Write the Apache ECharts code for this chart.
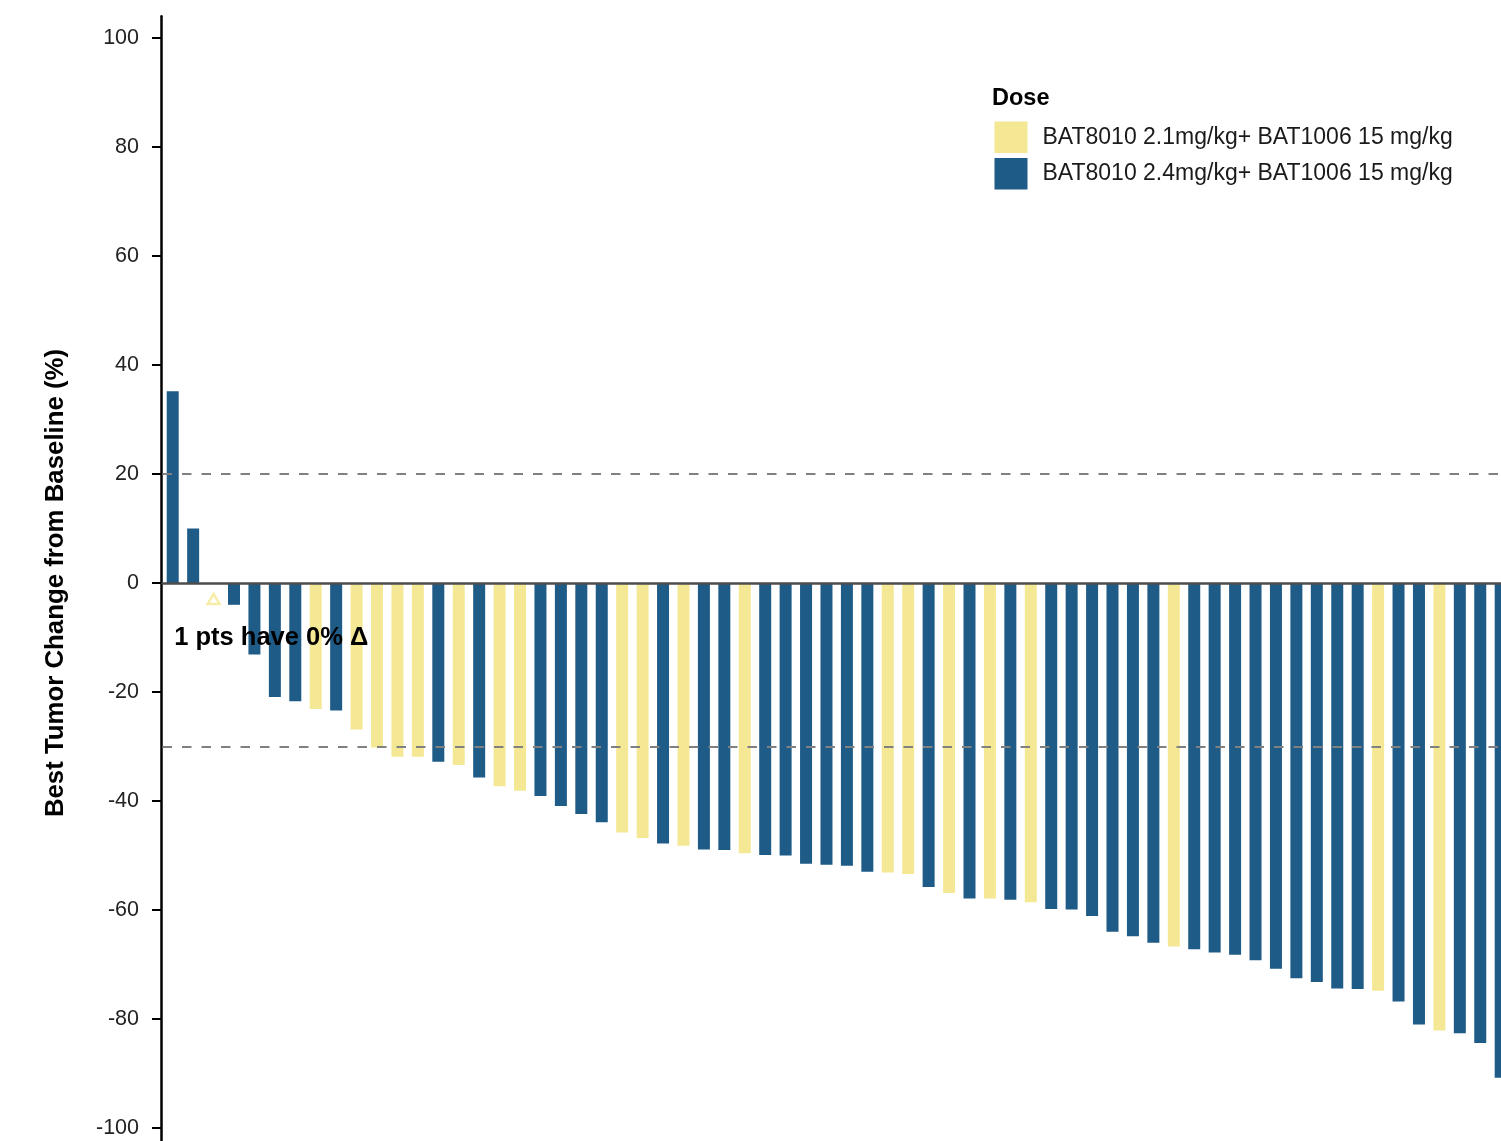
<!DOCTYPE html>
<html>
<head>
<meta charset="utf-8">
<script src="https://cdn.jsdelivr.net/npm/echarts@6/dist/echarts.min.js"></script>
<style>
html,body{margin:0;padding:0;background:#ffffff;}
#chart{width:1501px;height:1141px;}
</style>
</head>
<body>
<div id="chart"></div>
<script>
// ---- data ----
const patients = ['P01','P02','P03','P04','P05','P06','P07','P08','P09','P10',
  'P11','P12','P13','P14','P15','P16','P17','P18','P19','P20',
  'P21','P22','P23','P24','P25','P26','P27','P28','P29','P30',
  'P31','P32','P33','P34','P35','P36','P37','P38','P39','P40',
  'P41','P42','P43','P44','P45','P46','P47','P48','P49','P50',
  'P51','P52','P53','P54','P55','P56','P57','P58','P59','P60',
  'P61','P62','P63','P64','P65','P66'];

const bestChange = [35.2, 10.0, 0, -4.0, -13.1, -20.9, -21.7, -23.1, -23.4, -26.9,
  -30.2, -31.9, -31.9, -32.8, -33.4, -35.7, -37.3, -38.1, -39.1, -40.9,
  -42.4, -43.9, -45.8, -46.8, -47.8, -48.2, -48.9, -49.0, -49.6, -49.9,
  -50.0, -51.5, -51.7, -51.9, -53.0, -53.1, -53.4, -55.8, -56.9, -57.9,
  -57.9, -58.1, -58.6, -59.8, -59.9, -61.1, -64.0, -64.8, -66.0, -66.7,
  -67.2, -67.8, -68.2, -69.2, -70.8, -72.5, -73.2, -74.4, -74.5, -74.8,
  -76.8, -81.0, -82.1, -82.6, -84.4, -90.8];

const doseGroup = ['2.4','2.4','2.1','2.4','2.4','2.4','2.4','2.1','2.4','2.1',
  '2.1','2.1','2.1','2.4','2.1','2.4','2.1','2.1','2.4','2.4',
  '2.4','2.4','2.1','2.1','2.4','2.1','2.4','2.4','2.1','2.4',
  '2.4','2.4','2.4','2.4','2.4','2.1','2.1','2.4','2.1','2.4',
  '2.1','2.4','2.1','2.4','2.4','2.4','2.4','2.4','2.4','2.1',
  '2.4','2.4','2.4','2.4','2.4','2.4','2.4','2.4','2.4','2.1',
  '2.4','2.4','2.1','2.4','2.4','2.4'];

const doseKeys = ['2.1', '2.4'];
const doseLabels = ['BAT8010 2.1mg/kg+ BAT1006 15 mg/kg', 'BAT8010 2.4mg/kg+ BAT1006 15 mg/kg'];
const yTickValues = [-100, -80, -60, -40, -20, 0, 20, 40, 60, 80, 100];
const thresholdLines = [20, -30];

// ---- styles ----
const doseColors = ['#f5e895', '#1f5b87'];
const FONT = '"Liberation Sans", Arial, Helvetica, sans-serif';

const zeroIdx = bestChange.map((v, i) => v === 0 ? i : -1).filter(i => i >= 0);
const zeroCount = zeroIdx.length;

const barSeries = doseKeys.map((k, di) => ({
  name: doseLabels[di],
  type: 'bar',
  barWidth: 12,
  barGap: '-100%',
  itemStyle: { color: doseColors[di] },
  data: bestChange.map((v, i) => doseGroup[i] === k ? v : '-'),
  markLine: di === 0 ? {
    silent: true,
    symbol: ['none', 'none'],
    label: { show: false },
    lineStyle: { color: '#808080', width: 2, type: [9.5, 10] },
    data: thresholdLines.map(v => ({ yAxis: v }))
  } : undefined,
  z: 2
}));

const chart = echarts.init(document.getElementById('chart'), null, { renderer: 'canvas' });

const option = {
  animation: false,
  backgroundColor: '#ffffff',
  textStyle: { fontFamily: FONT },
  title: {
    text: 'Dose',
    left: 992,
    top: 87,
    padding: 0,
    textStyle: { fontFamily: FONT, fontSize: 23.5, fontWeight: 'bold', color: '#000000' }
  },
  legend: {
    data: doseLabels,
    orient: 'vertical',
    left: 994.5,
    top: 121.5,
    padding: 0,
    itemWidth: 33,
    itemHeight: 31.5,
    itemGap: 5,
    icon: 'rect',
    textStyle: { fontFamily: FONT, fontSize: 23, color: '#1a1a1a', padding: [4, 0, 0, 10] }
  },
  grid: {
    left: 162.5,
    top: 16.2,
    width: 1348.4,
    height: 1133.6,
    containLabel: false,
    outerBoundsMode: 'none'
  },
  xAxis: {
    type: 'category',
    data: patients,
    boundaryGap: true,
    z: 5,
    axisLine: { show: true, onZero: true, lineStyle: { color: '#4d4d4d', width: 2.5 } },
    axisTick: { show: false },
    axisLabel: { show: false },
    splitLine: { show: false }
  },
  yAxis: {
    type: 'value',
    min: -104,
    max: 104,
    offset: 1.5,
    name: 'Best Tumor Change from Baseline (%)',
    nameLocation: 'middle',
    nameGap: 92,
    nameTextStyle: { fontFamily: FONT, fontSize: 25.8, fontWeight: 'bold', color: '#000000' },
    axisLine: { show: true, lineStyle: { color: '#000000', width: 2.5 } },
    axisTick: { show: true, customValues: yTickValues, length: 9, lineStyle: { color: '#000000', width: 2 } },
    axisLabel: { show: true, customValues: yTickValues, margin: 22, fontFamily: FONT, fontSize: 21.5, color: '#222222' },
    splitLine: { show: false }
  },
  series: [
    ...barSeries,
    {
      name: 'zero',
      type: 'scatter',
      symbol: 'triangle',
      symbolSize: [12, 10],
      symbolOffset: [0, 16],
      itemStyle: { color: '#ffffff', borderColor: doseColors[0], borderWidth: 2.5 },
      data: zeroIdx.map(i => [i, bestChange[i]]),
      z: 4
    }
  ]
};

chart.setOption(option);

// annotation text anchored to the first category and y = -10 through the axes
const notePos = chart.convertToPixel({ gridIndex: 0 }, [0, -10]);
chart.setOption({
  graphic: [{
    type: 'text',
    x: notePos[0] + 1.5,
    y: notePos[1],
    z: 100,
    style: {
      text: zeroCount + ' pts have 0% \u0394',
      font: 'bold 25.5px ' + FONT,
      fill: '#000000',
      align: 'left',
      verticalAlign: 'middle'
    }
  }]
});
</script>
</body>
</html>
